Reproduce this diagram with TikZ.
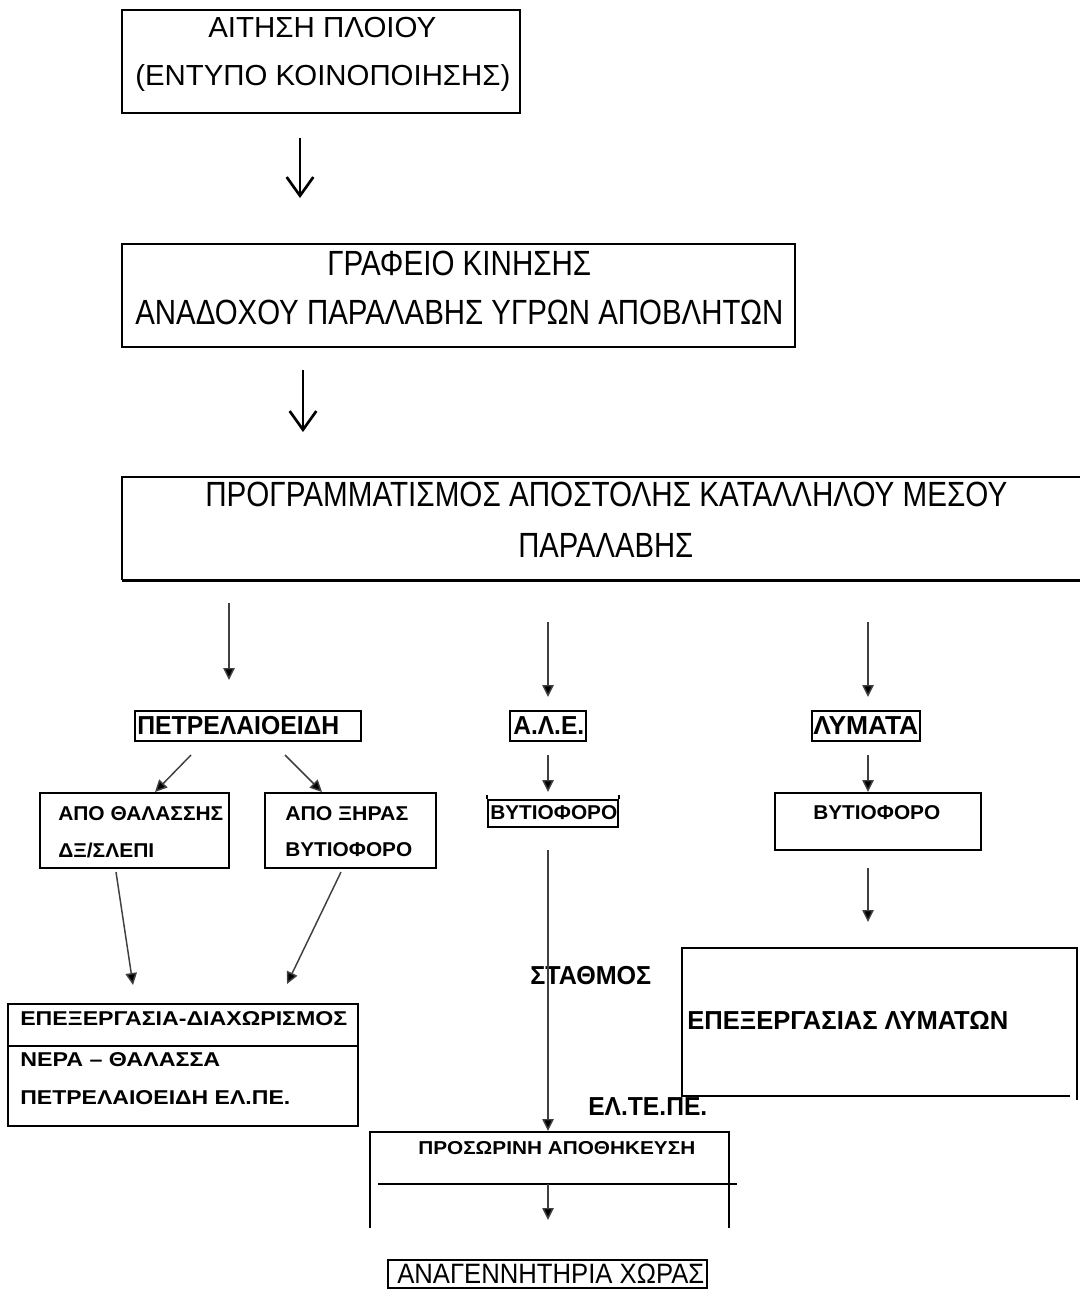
\documentclass[tikz,border=0pt]{standalone}
\usepackage{fontspec}
\setmainfont{Liberation Sans}
\usetikzlibrary{arrows.meta,fit}
\newcommand\fitw[2]{\resizebox{#1}{\height}{#2}}
\newcommand\fntA{\fontsize{21.75pt}{26pt}\selectfont}
\newcommand\fntB{\fontsize{26.25pt}{30pt}\selectfont}
\newcommand\fntC{\fontsize{19.5pt}{23pt}\selectfont\bfseries}
\newcommand\fntD{\fontsize{15pt}{18pt}\selectfont\bfseries}
\newcommand\fntE{\fontsize{15pt}{18pt}\selectfont\bfseries}
\newcommand\fntG{\fontsize{14pt}{17pt}\selectfont\bfseries}
\newcommand\fntF{\fontsize{21pt}{24pt}\selectfont}
\tikzset{
  box/.style={draw, line width=1.3pt, inner sep=0pt},
  frame/.style={inner sep=0pt},
  edge/.style={line width=1.3pt},
  lbl/.style={inner sep=0pt, anchor=west},
  bigarr/.style={line width=2pt, -{Straight Barb[length=14pt,width=20pt,line width=2pt]}},
  arr/.style={line width=1.1pt, draw=black!75, -{Triangle[length=9pt,width=8.5pt,fill=black]}},
}
\begin{document}
\begin{tikzpicture}[x=0.75pt,y=-0.75pt]
\fill[white] (0,0) rectangle (1080,1289);
\useasboundingbox (0,0) rectangle (1080,1289);

% ---------- boxes ----------
\node[box, fit={(122,10) (520,113)}] (b1) {};
\node[box, fit={(122,244) (795,347)}] (b2) {};
\node[frame, fit={(122,477) (1080,580)}] (b3) {};
\draw[edge] (b3.north east) -- (b3.north west) -- (b3.south west);
\draw[line width=2pt] (b3.south west) -- (b3.south east);

\node[box, fit={(135,711) (361,741)}] (pet) {};
\node[box, fit={(40,793) (229,868)}] (sea) {};
\node[box, fit={(265,793) (436,868)}] (land) {};
\node[box, fit={(510,711) (586,741)}] (ale) {};
\node[box, fit={(812,711) (920,741)}] (lym) {};
\node[box, fit={(488,800) (618,827)}] (vyt1) {};
\draw[edge] ([yshift=3pt]vyt1.north west) -- (vyt1.north west);
\draw[edge] ([yshift=3pt]vyt1.north east) -- (vyt1.north east);
\node[box, fit={(775,793) (981,850)}] (vyt2) {};

\node[box, fit={(8,1004) (358,1126)}] (proc) {};
\coordinate (pdiv) at (0,1046);
\draw[edge] (proc.west |- pdiv) -- (proc.east |- pdiv);

\node[frame, fit={(682,948) (1077,1096)}] (ste) {};
\draw[edge] ([xshift=-5.25pt]ste.south east) -- (ste.south west) -- (ste.north west) -- (ste.north east) -- ([yshift=-3pt]ste.south east);

\node[frame, fit={(370,1132) (729,1228)}] (tmp) {};
\draw[edge] (tmp.south west) -- (tmp.north west) -- (tmp.north east) -- (tmp.south east);
\coordinate (tdiv1) at (378,1184);
\coordinate (tdiv2) at (737,1184);
\draw[edge] (tdiv1) -- (tdiv2);

\node[box, fit={(388,1260) (707,1288)}] (reg) {};

% ---------- texts ----------
\node[lbl] (t1a) at (208,28) {\fitw{171pt}{\fntA ΑΙΤΗΣΗ ΠΛΟΙΟΥ}};
\node[lbl] (t1b) at (135,78) {\fitw{281.25pt}{\fntA (ΕΝΤΥΠΟ ΚΟΙΝΟΠΟΙΗΣΗΣ)}};
\node[lbl] (t2a) at (327,263) {\fitw{198pt}{\fntB ΓΡΑΦΕΙΟ ΚΙΝΗΣΗΣ}};
\node[lbl] (t2b) at (135,312) {\fitw{486pt}{\fntB ΑΝΑΔΟΧΟΥ ΠΑΡΑΛΑΒΗΣ ΥΓΡΩΝ ΑΠΟΒΛΗΤΩΝ}};
\node[lbl] (t3a) at (205,494) {\fitw{601.5pt}{\fntB ΠΡΟΓΡΑΜΜΑΤΙΣΜΟΣ ΑΠΟΣΤΟΛΗΣ ΚΑΤΑΛΛΗΛΟΥ ΜΕΣΟΥ}};
\node[lbl] (t3b) at (518,545) {\fitw{131.25pt}{\fntB ΠΑΡΑΛΑΒΗΣ}};

\node[lbl] (tpet) at (137,726) {\fitw{151.5pt}{\fntC ΠΕΤΡΕΛΑΙΟΕΙΔΗ}};
\node[lbl] (tale) at (513,726) {\fitw{53.25pt}{\fntC Α.Λ.Ε.}};
\node[lbl] (tlym) at (813,726) {\fitw{78.75pt}{\fntC ΛΥΜΑΤΑ}};

\node[lbl] (tsea1) at (58,814) {\fitw{123.75pt}{\fntE ΑΠΟ ΘΑΛΑΣΣΗΣ}};
\node[lbl] (tsea2) at (58,850) {\fitw{72pt}{\fntE ΔΞ/ΣΛΕΠΙ}};
\node[lbl] (tland1) at (285,814) {\fitw{92.25pt}{\fntE ΑΠΟ ΞΗΡΑΣ}};
\node[lbl] (tland2) at (285,850) {\fitw{95.25pt}{\fntE ΒΥΤΙΟΦΟΡΟ}};
\node[lbl] (tvyt1) at (490,813) {\fitw{95.25pt}{\fntE ΒΥΤΙΟΦΟΡΟ}};
\node[lbl] (tvyt2) at (813,813) {\fitw{95.25pt}{\fntE ΒΥΤΙΟΦΟΡΟ}};

\node[lbl] (tsta) at (530,976) {\fitw{90.75pt}{\fntC ΣΤΑΘΜΟΣ}};
\node[lbl] (tste) at (687,1020) {\fitw{240.75pt}{\fntC ΕΠΕΞΕΡΓΑΣΙΑΣ ΛΥΜΑΤΩΝ}};
\node[lbl] (telte) at (588,1107) {\fitw{89.25pt}{\fntC ΕΛ.ΤΕ.ΠΕ.}};

\node[lbl] (tproc1) at (20,1019) {\fitw{245.25pt}{\fntD ΕΠΕΞΕΡΓΑΣΙΑ-ΔΙΑΧΩΡΙΣΜΟΣ}};
\node[lbl] (tproc2) at (20,1060) {\fitw{150pt}{\fntD ΝΕΡΑ – ΘΑΛΑΣΣΑ}};
\node[lbl] (tproc3) at (20,1098) {\fitw{202.5pt}{\fntD ΠΕΤΡΕΛΑΙΟΕΙΔΗ ΕΛ.ΠΕ.}};

\node[lbl] (ttmp) at (418,1148) {\fitw{207.75pt}{\fntG ΠΡΟΣΩΡΙΝΗ ΑΠΟΘΗΚΕΥΣΗ}};
\node[lbl] (treg) at (397,1274) {\fitw{230.25pt}{\fntF ΑΝΑΓΕΝΝΗΤΗΡΙΑ ΧΩΡΑΣ}};

% ---------- arrows ----------
\coordinate (a1s) at (300,138);  \coordinate (a1e) at (300,198);
\coordinate (a2s) at (303,370);  \coordinate (a2e) at (303,432);
\draw[bigarr] (a1s) -- (a1e);
\draw[bigarr] (a2s) -- (a2e);

\coordinate (a3s) at (229,603);  \coordinate (a3e) at (229,680);
\coordinate (a4s) at (548,622);  \coordinate (a4e) at (548,697);
\coordinate (a5s) at (868,622);  \coordinate (a5e) at (868,697);
\coordinate (a6s) at (191,755);  \coordinate (a6e) at (155,792);
\coordinate (a7s) at (285,755);  \coordinate (a7e) at (322,792);
\coordinate (a8s) at (548,755);  \coordinate (a8e) at (548,792);
\coordinate (a9s) at (868,755);  \coordinate (a9e) at (868,792);
\coordinate (a10s) at (116,872); \coordinate (a10e) at (133,985);
\coordinate (a11s) at (341,872); \coordinate (a11e) at (287,984);
\coordinate (a12s) at (868,868); \coordinate (a12e) at (868,922);
\coordinate (a13s) at (548,850); \coordinate (a13e) at (548,1131);
\coordinate (a14s) at (548,1184); \coordinate (a14e) at (548,1220);
\foreach \k in {3,...,14} { \draw[arr] (a\k s) -- (a\k e); }
\end{tikzpicture}
\end{document}
